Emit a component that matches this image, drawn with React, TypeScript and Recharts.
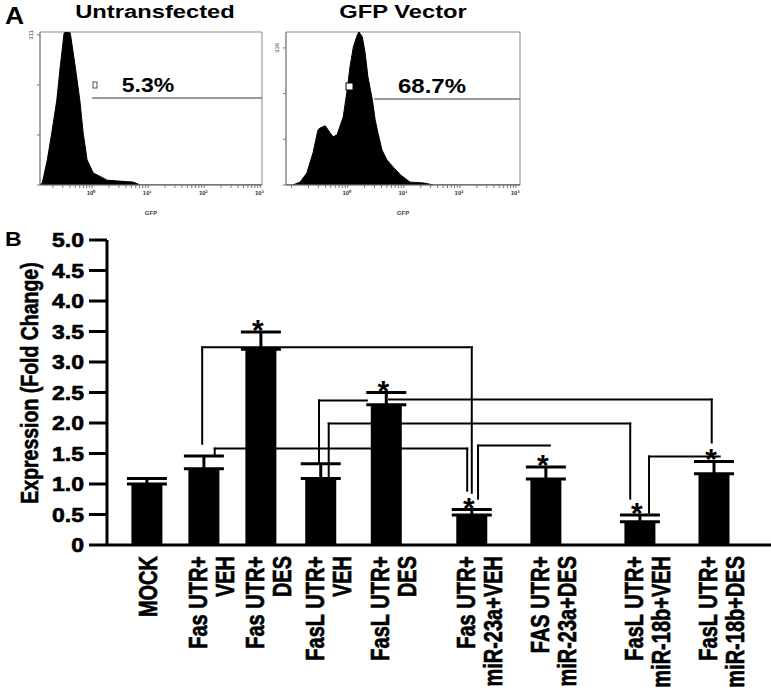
import React from 'react';
import {
  AreaChart, Area, BarChart, Bar, XAxis, YAxis, ErrorBar,
  ReferenceLine, ReferenceArea, ReferenceDot,
} from 'recharts';

const FONT = "'Liberation Sans', Arial, Helvetica, sans-serif";

// ---- panel A: flow histograms (x = log10 GFP, y = events) ----
const untransLog = [-0.93, -0.89, -0.8, -0.72, -0.63, -0.57, -0.5, -0.45, -0.39, -0.3, -0.22, -0.16, -0.09, 0.02, 0.27, 0.73, 0.86, 3.03];
const untransCount = [0, 4, 52, 108, 176, 244, 315, 317, 315, 244, 176, 108, 52, 25, 10, 6, 0, 0];

const gfpLog = [-1.1, -0.98, -0.85, -0.73, -0.62, -0.53, -0.49, -0.4, -0.31, -0.26, -0.19, -0.08, -0.01, 0.04, 0.1, 0.17, 0.2, 0.26, 0.31, 0.36, 0.44, 0.49, 0.54, 0.61, 0.7, 0.81, 0.94, 1.11, 1.35, 1.53, 3.07];
const gfpCount = [0, 0, 7, 29, 78, 135, 140, 145, 127, 118, 123, 167, 233, 289, 338, 368, 375, 363, 324, 265, 208, 159, 127, 86, 61, 44, 25, 7, 5, 0, 0];

// ---- panel B: reporter expression ----
const groups = [
  ['MOCK'],
  ['Fas UTR+', 'VEH'],
  ['Fas UTR+', 'DES'],
  ['FasL UTR+', 'VEH'],
  ['FasL UTR+', 'DES'],
  ['Fas UTR+', 'miR-23a+VEH'],
  ['FAS UTR+', 'miR-23a+DES'],
  ['FasL UTR+', 'miR-18b+VEH'],
  ['FasL UTR+', 'miR-18b+DES'],
];
const foldChange = [1.0, 1.25, 3.21, 1.09, 2.3, 0.49, 1.08, 0.38, 1.17];
const sem = [0.09, 0.21, 0.28, 0.24, 0.2, 0.09, 0.2, 0.11, 0.2];
const significant = [false, false, true, false, true, true, true, true, true];
const yTicks = [0, 0.5, 1, 1.5, 2, 2.5, 3, 3.5, 4, 4.5, 5];

// where each group sits along the x axis (groups are not evenly spaced)
const xSlot = [0, 1, 2, 3.05, 4.2, 5.7, 7, 8.65, 9.95];

// comparison brackets, as polylines in (slot, fold change)
const brackets = [
  [[0.97, 1.66], [0.97, 3.24], [5.7, 3.24], [5.7, 0.855]],
  [[3.02, 1.33], [3.02, 2.37], [3.86, 2.37]],
  [[4.25, 2.385], [9.91, 2.385], [9.91, 1.68]],
  [[3.19, 1.13], [3.19, 1.99], [8.48, 1.99], [8.48, 0.76]],
  [[1.19, 1.48], [1.19, 1.58], [5.62, 1.58], [5.62, 0.89]],
  [[5.81, 0.76], [5.81, 1.63], [7.07, 1.63]],
  [[8.81, 0.53], [8.81, 1.45], [10.05, 1.45]],
];

// only the upper whisker is drawn
const barData = groups.map((g, i) => ({
  slot: xSlot[i],
  value: foldChange[i],
  err: [0, sem[i]],
}));

const SUP = ['⁰', '¹', '²', '³'];

const LogTick = (props: any) => {
  const { x, y, payload } = props;
  const v = payload.value;
  if (!Number.isInteger(v) || v < 0) return null;
  return (
    <text x={x - 1} y={y} dy="0.75em" textAnchor="middle" fontSize={6} fontWeight="bold" fontFamily={FONT} fill="#333">
      {'10' + SUP[v]}
    </text>
  );
};

const makeCountTick = (top: number) => (props: any) => {
  const { x, y, payload } = props;
  if (payload.value !== top) return null;
  return (
    <text transform={`translate(${x - 2},${y}) rotate(-90)`} textAnchor="middle" fontSize={6} fontFamily={FONT} fill="#333">
      {top}
    </text>
  );
};

function Histogram({ logs, counts, xDomain, yMax, topTick, gate, gateFrom, width }: any) {
  const data = logs.map((l: number, i: number) => ({ log: l, count: counts[i] }));
  const ticks: number[] = [];
  for (let n = -1; n < 4; n++) {
    for (let k = 1; k < 10; k++) {
      const v = n + Math.log10(k);
      if (v >= xDomain[0] && v <= xDomain[1]) ticks.push(k === 1 ? n : +v.toFixed(3));
    }
  }
  return (
    <AreaChart width={width} height={225} data={data} margin={{ top: 32, right: 2, left: 0, bottom: 0 }}>
      <XAxis
        dataKey="log" type="number" domain={xDomain} ticks={ticks} interval={0} allowDataOverflow
        tick={<LogTick />} tickSize={3} tickLine={{ stroke: '#777' }} axisLine={{ stroke: '#888' }} height={40}
        label={{ value: 'GFP', position: 'insideBottom', offset: 10, fontSize: 6, fill: '#444', fontFamily: FONT, fontWeight: 'bold' }}
      />
      <YAxis
        type="number" domain={[0, yMax]} allowDataOverflow
        ticks={[0, topTick / 3, (2 * topTick) / 3, topTick]} interval={0}
        tick={makeCountTick(topTick)} width={40} tickSize={3}
        tickLine={{ stroke: '#777' }} axisLine={{ stroke: '#888' }}
      />
      <ReferenceArea x1={xDomain[0]} x2={xDomain[1]} y1={0} y2={yMax} fill="none" stroke="#888" strokeWidth={1} />
      <ReferenceLine segment={[{ x: gateFrom, y: gate }, { x: xDomain[1], y: gate }]} stroke="#777" strokeWidth={1.5} />
      <Area
        type="linear" dataKey="count" stroke="#000" strokeWidth={1} fill="#000" fillOpacity={1}
        dot={false} activeDot={false} isAnimationActive={false}
      />
    </AreaChart>
  );
}

const ValueTick = (props: any) => {
  const { x, y, payload } = props;
  const v = payload.value;
  return (
    <text transform={`translate(${x},${y}) scale(1.15,1)`} textAnchor="end" dy="0.36em" fontSize={20} fontWeight="bold"
      fontFamily={FONT} fill="#000" stroke="#000" strokeWidth={0.6}>
      {v === 0 ? '0' : v.toFixed(1)}
    </text>
  );
};

const GroupTick = (props: any) => {
  const { x, y, payload } = props;
  const i = xSlot.indexOf(payload.value);
  const lines = groups[i] || [];
  const shift = lines.length > 1 ? 7 : 1;
  return (
    <g>
      {lines.map((t, j) => {
        const lx = x + shift + (j - (lines.length - 1) / 2) * 27;
        return (
          <text
            key={j}
            transform={`translate(${lx},${y + 3}) rotate(-90) scale(1,1.3)`}
            textAnchor="end" dy="0.36em" fontSize={20} fontWeight="bold" fontFamily={FONT}
            fill="#000" stroke="#000" strokeWidth={0.5}
          >
            {t}
          </text>
        );
      })}
    </g>
  );
};

const Star = (props: any) => (
  <text x={props.cx - 3} y={props.cy - 8 + 16} textAnchor="middle" fontSize={30} fontWeight="bold" fontFamily={FONT} fill="#000">
    *
  </text>
);

export default function App() {
  const segs: any[] = [];
  brackets.forEach((pts, b) => {
    for (let k = 0; k < pts.length - 1; k++) {
      segs.push(
        <ReferenceLine
          key={`br-${b}-${k}`}
          segment={[{ x: pts[k][0], y: pts[k][1] }, { x: pts[k + 1][0], y: pts[k + 1][1] }]}
          stroke="#000" strokeWidth={2} strokeLinecap="square" ifOverflow="visible"
        />
      );
    }
  });

  return (
    <div style={{ position: 'relative', width: 771, height: 694, background: '#fff', fontFamily: FONT }}>
      <style>{'body{margin:0}'}</style>

      <div style={{ position: 'absolute', left: 0, top: 0 }}>
        <Histogram logs={untransLog} counts={untransCount} xDomain={[-0.93, 3.03]} yMax={317} topTick={311} gate={180} gateFrom={0} width={264} />
      </div>
      <div style={{ position: 'absolute', left: 246, top: 0 }}>
        <Histogram logs={gfpLog} counts={gfpCount} xDomain={[-1.1, 3.07]} yMax={375} topTick={336} gate={211} gateFrom={0.47} width={276} />
      </div>

      <div style={{ position: 'absolute', left: 0, top: 220 }}>
        <BarChart width={771} height={474} data={barData} margin={{ top: 20, right: 0, left: 0, bottom: 0 }}>
          <XAxis
            dataKey="slot" type="number" domain={[-0.7, 10.95]} ticks={xSlot} interval={0} allowDataOverflow
            tick={<GroupTick />} tickLine={false} axisLine={{ stroke: '#000', strokeWidth: 3 }} height={149}
          />
          <YAxis
            type="number" domain={[0, 5]} ticks={yTicks} interval={0} allowDataOverflow
            tick={<ValueTick />} tickSize={18} tickMargin={5} width={107}
            tickLine={{ stroke: '#000', strokeWidth: 3 }} axisLine={{ stroke: '#000', strokeWidth: 3 }}
          />
          {segs}
          <Bar dataKey="value" fill="#000" barSize={31} isAnimationActive={false}>
            <ErrorBar dataKey="err" width={20} strokeWidth={3} stroke="#000" direction="y" />
          </Bar>
          {barData.map((d, i) =>
            significant[i] ? (
              <ReferenceDot key={`s-${i}`} x={d.slot} y={d.value + sem[i]} r={0} shape={Star} ifOverflow="visible" />
            ) : null
          )}
        </BarChart>
      </div>

      <svg width={771} height={694} style={{ position: 'absolute', left: 0, top: 0, pointerEvents: 'none' }}>
        <g fontFamily={FONT} fontWeight="bold" fill="#000">
          <text transform="translate(5,24) scale(1.15,1)" fontSize={23}>A</text>
          <text transform="translate(5,246) scale(1.1,1)" fontSize={21}>B</text>
          <text transform="translate(155,18) scale(1.32,1)" textAnchor="middle" fontSize={18}>Untransfected</text>
          <text transform="translate(403,18) scale(1.32,1)" textAnchor="middle" fontSize={18}>GFP Vector</text>
          <text transform="translate(148,92) scale(1.15,1)" textAnchor="middle" fontSize={20}>5.3%</text>
          <text transform="translate(432,93) scale(1.2,1)" textAnchor="middle" fontSize={20}>68.7%</text>
          <text transform="translate(30,383) rotate(-90) scale(1,1.2)" textAnchor="middle" dy="0.36em" fontSize={19.5}
            stroke="#000" strokeWidth={0.5}>
            Expression (Fold Change)
          </text>
        </g>
        <rect x={93} y={82} width={4} height={6} fill="#fff" stroke="#555" strokeWidth={1} />
        <rect x={346} y={83} width={7} height={7} fill="#fff" stroke="#000" strokeWidth={1} />
      </svg>
    </div>
  );
}
